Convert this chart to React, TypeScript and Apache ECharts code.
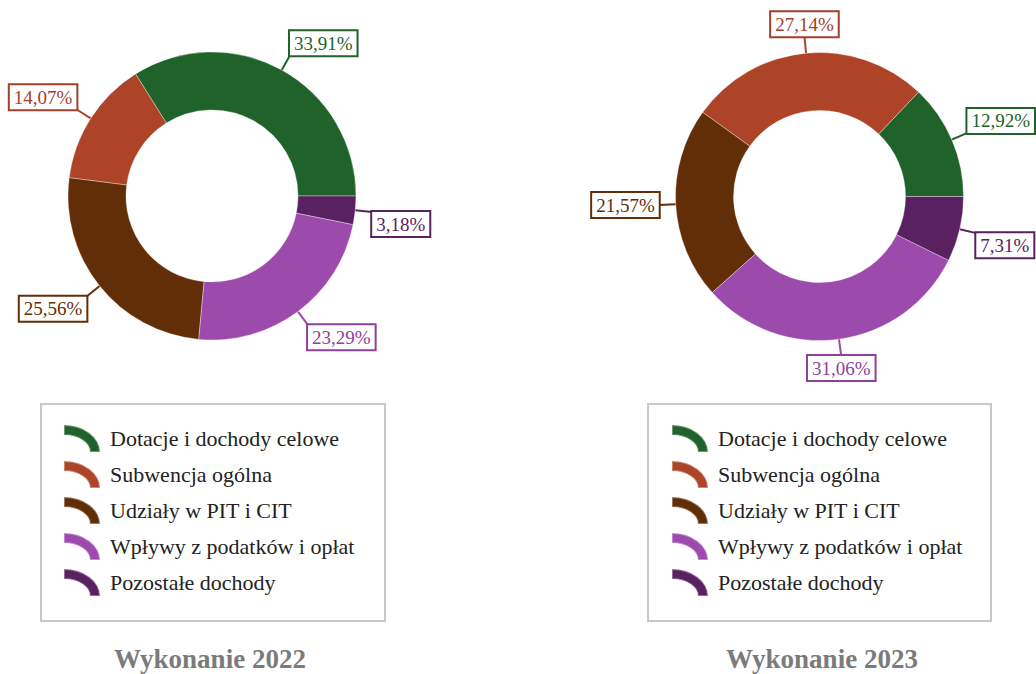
import React, { useEffect, useRef } from "react";
import * as echarts from "echarts";

const categories = [
  "Dotacje i dochody celowe",
  "Subwencja ogólna",
  "Udziały w PIT i CIT",
  "Wpływy z podatków i opłat",
  "Pozostałe dochody",
];
const values2022 = [33.91, 14.07, 25.56, 23.29, 3.18];
const values2023 = [12.92, 27.14, 21.57, 31.06, 7.31];
const titles = ["Wykonanie 2022", "Wykonanie 2023"];
const colors = ["#1f622a", "#ae4427", "#622e07", "#9d4aad", "#5a2161"];
const labelColors = ["#1f622a", "#a2402a", "#622e07", "#8e419c", "#5a2161"];

const ICON = "path://M0,0 A36,27 0 0,1 36,27 L26,27 A26,17 0 0,0 0,10 Z";
const SERIF = "Liberation Serif";

const fmt = (v: number) => v.toFixed(2).replace(".", ",") + "%";

const labelLayout = (params: any) => {
  const p = params.labelLinePoints;
  if (!p) return {};
  const dx = p[1][0] - p[0][0];
  const dy = p[1][1] - p[0][1];
  const len = Math.hypot(dx, dy) || 1;
  const ux = dx / len;
  const uy = dy / len;
  const end = p[p.length - 1];
  const align = Math.abs(ux) < 0.25 ? "center" : ux > 0 ? "left" : "right";
  const verticalAlign = Math.abs(uy) < 0.07 ? "middle" : uy > 0 ? "top" : "bottom";
  return {
    x: end[0],
    y: end[1],
    align,
    verticalAlign,
    labelLinePoints: [p[0], p[1], end],
  };
};

function pieSeries(values: number[], center: [number, number]) {
  return {
    type: "pie",
    center,
    radius: [86, 144],
    startAngle: 0,
    clockwise: false,
    avoidLabelOverlap: false,
    emphasis: { disabled: true },
    itemStyle: { borderColor: "rgba(255,255,255,0.35)", borderWidth: 1 },
    label: {
      show: true,
      position: "outside",
      formatter: (p: any) => fmt(p.value),
      fontFamily: SERIF,
      fontSize: 19,
      lineHeight: 20,
      backgroundColor: "#ffffff",
      borderWidth: 2,
      padding: [2, 4, 2, 4],
    },
    labelLine: { show: true, length: 17, length2: 0, lineStyle: { width: 2 } },
    labelLayout,
    data: categories.map((name, i) => ({
      name,
      value: values[i],
      label: { color: labelColors[i], borderColor: labelColors[i] },
    })),
  };
}

function legendAt(left: number) {
  return {
    data: categories,
    orient: "vertical",
    left,
    top: 424,
    padding: 0,
    itemWidth: 36,
    itemHeight: 27,
    itemGap: 7,
    icon: ICON,
    selectedMode: false,
    textStyle: {
      fontFamily: SERIF,
      fontSize: 22,
      lineHeight: 26,
      color: "#222222",
      padding: [0, 0, 0, 5],
    },
  };
}

function titleText(text: string, x: number) {
  return {
    type: "text",
    style: {
      text,
      x,
      y: 659,
      align: "center",
      verticalAlign: "middle",
      fontFamily: SERIF,
      fontSize: 27,
      fontWeight: "bold",
      fill: "#7b7b7b",
    },
  };
}

export default function App() {
  const ref = useRef<HTMLDivElement>(null);
  useEffect(() => {
    document.body.style.margin = "0";
    if (!ref.current) return;
    const chart = echarts.init(ref.current, null, { renderer: "svg" });
    chart.setOption({
      animation: false,
      color: colors,
      textStyle: { fontFamily: SERIF },
      legend: [legendAt(63), legendAt(671)],
      graphic: [
        {
          type: "rect",
          shape: { x: 41, y: 404, width: 344, height: 217 },
          style: { fill: "none", stroke: "#c8c8c8", lineWidth: 2 },
          z: -1,
        },
        {
          type: "rect",
          shape: { x: 648, y: 404, width: 343, height: 217 },
          style: { fill: "none", stroke: "#c8c8c8", lineWidth: 2 },
          z: -1,
        },
        titleText(titles[0], 210),
        titleText(titles[1], 822),
      ],
      series: [pieSeries(values2022, [212, 196]), pieSeries(values2023, [819.5, 196.5])],
    });
    return () => chart.dispose();
  }, []);
  return <div ref={ref} style={{ width: 1036, height: 674 }} />;
}
